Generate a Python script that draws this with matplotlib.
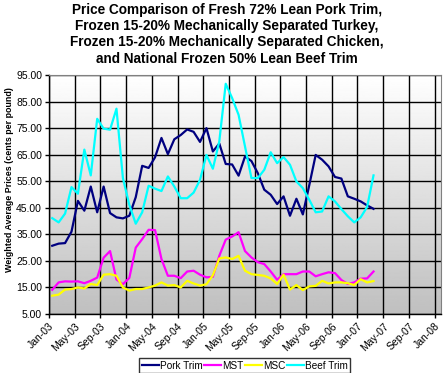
import numpy as np
import matplotlib
matplotlib.use("Agg")
import matplotlib.pyplot as plt

plt.rcParams['font.family'] = ['Liberation Sans', 'DejaVu Sans']

# monthly prices Jan-03 .. Mar-07 (cents per pound)
pork_trim = [30.7, 31.5, 31.7, 36.0, 47.6, 43.9, 53.0, 43.3, 53.0, 43.0,
             41.4, 41.0, 42.0, 49.0, 60.8, 60.0, 64.0, 71.3, 65.2, 70.8,
             72.4, 74.5, 73.6, 69.8, 75.0, 66.2, 69.2, 61.5, 61.3, 57.1,
             64.3, 62.6, 58.0, 51.8, 49.9, 46.4, 49.3, 42.0, 48.4, 42.5,
             53.5, 64.9, 63.1, 60.6, 56.6, 56.0, 49.3, 48.4, 47.4, 45.9,
             44.6]
mst = [14.1, 16.9, 17.3, 17.2, 17.3, 16.6, 17.5, 18.7, 26.2, 28.7,
       18.0, 16.2, 18.6, 30.0, 33.2, 36.7, 36.6, 25.7, 19.4, 19.4,
       18.5, 21.0, 21.3, 19.8, 18.8, 19.0, 26.9, 33.0, 34.2, 35.8,
       28.7, 26.3, 24.5, 23.8, 21.0, 17.9, 20.0, 20.0, 20.0, 21.0,
       21.0, 19.2, 20.0, 20.7, 20.4, 17.8, 16.3, 16.9, 18.3, 18.4,
       21.0]
msc = [11.9, 12.3, 14.2, 14.4, 15.0, 14.6, 16.3, 15.9, 19.8, 20.0,
       19.4, 15.0, 13.8, 14.4, 14.4, 15.0, 15.7, 16.9, 15.7, 15.9,
       15.0, 17.5, 16.5, 15.7, 16.2, 19.6, 25.9, 26.3, 25.7, 26.9,
       21.3, 20.0, 19.7, 19.4, 18.4, 16.3, 19.8, 14.2, 15.9, 14.0,
       15.4, 15.6, 17.5, 16.5, 16.9, 16.9, 16.6, 15.9, 18.1, 16.9,
       17.4]
beef_trim = [41.1, 39.5, 42.8, 52.8, 50.3, 66.9, 57.2, 78.5, 74.8, 74.4,
             82.3, 56.2, 46.1, 39.0, 43.3, 53.3, 52.2, 51.3, 56.8, 53.0,
             48.6, 48.6, 50.7, 55.5, 64.9, 59.7, 70.0, 91.7, 86.3, 80.0,
             68.1, 56.2, 56.2, 59.3, 65.9, 61.8, 64.1, 61.2, 54.9, 52.4,
             48.0, 43.3, 43.6, 49.3, 47.4, 44.5, 41.8, 39.5, 41.4, 45.3,
             57.2]

tick_labels = ["Jan-03", "May-03", "Sep-03", "Jan-04", "May-04", "Sep-04",
               "Jan-05", "May-05", "Sep-05", "Jan-06", "May-06", "Sep-06",
               "Jan-07", "May-07", "Sep-07", "Jan-08"]

series = [("Pork Trim", pork_trim, "#000080"),
          ("MST", mst, "#ff00ff"),
          ("MSC", msc, "#ffff00"),
          ("Beef Trim", beef_trim, "#00ffff")]

fig = plt.figure(figsize=(4.43, 3.73), dpi=100)
ax = fig.add_axes([49 / 443, 1 - 314 / 373, 392 / 443, 239 / 373])

x = np.arange(len(pork_trim)) + 0.5

# gradient background (white at top to silver at bottom)
grad = np.linspace(1.0, 0.75, 256).reshape(-1, 1)
ax.imshow(grad, cmap="gray", vmin=0, vmax=1, aspect="auto",
          extent=[0, 61, 5, 95], origin="upper", zorder=0)

for name, vals, col in series:
    ax.plot(x, vals, color=col, lw=1.6, label=name, zorder=3)

ax.set_xlim(0, 61)
ax.set_ylim(5, 95)
ax.set_yticks(np.arange(5, 96, 10))
ax.set_yticklabels([f"{v:.2f}" for v in np.arange(5, 96, 10)], fontsize=7.5)
ax.set_xticks(np.arange(0, 61, 4))
ax.set_xticklabels(tick_labels, rotation=45, ha="right", rotation_mode="anchor",
                   fontsize=7.5)
ax.grid(True, color="black", lw=1.0, zorder=1)
ax.set_axisbelow(True)
ax.tick_params(length=3, width=1, pad=2)

for side in ["top", "right"]:
    ax.spines[side].set_color("#808080")
for side in ["left", "bottom"]:
    ax.spines[side].set_color("black")
    ax.spines[side].set_linewidth(1.0)

# y label placed like the original (a bit above plot centre)
fig.text(9.5 / 443, 1 - 180 / 373, "Weighted Average Prices (cents per pound)",
         rotation=90, ha="center", va="center", fontsize=6.4, fontweight="bold")

fig.text(0.512, 0.992,
         "Price Comparison of Fresh 72% Lean Pork Trim,\n"
         "Frozen 15-20% Mechanically Separated Turkey,\n"
         "Frozen 15-20% Mechanically Separated Chicken,\n"
         "and National Frozen 50% Lean Beef Trim",
         ha="center", va="top", fontsize=9.8, fontweight="bold",
         linespacing=1.2)

leg = fig.legend(loc="center", bbox_to_anchor=(0.552, 0.019), ncol=4,
                 fontsize=7.2, frameon=True, fancybox=False, handlelength=1.7,
                 handletextpad=0.1, columnspacing=0.15, borderpad=0.25,
                 borderaxespad=0)
leg.get_frame().set_edgecolor("black")
leg.get_frame().set_linewidth(1.0)

fig.savefig("out.png", dpi=100)
